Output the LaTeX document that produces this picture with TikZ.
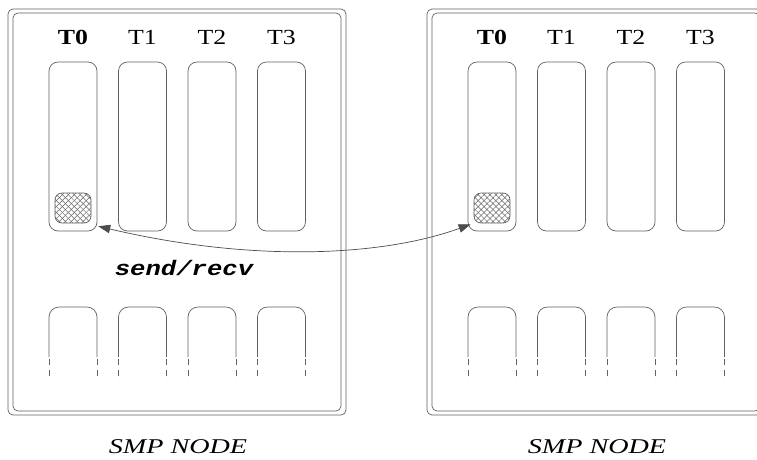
\documentclass[tikz,border=0pt]{standalone}
\usepackage{fontspec}
\setmainfont{Liberation Serif}
\setmonofont{Liberation Mono}
\usetikzlibrary{arrows.meta,patterns.meta}
\tikzset{
  ln/.style={draw=black!62, line width=0.7pt},
  frame/.style={ln, rounded corners=5pt},
  thread/.style={ln, rounded corners=9pt, minimum width=48pt, minimum height=169pt, inner sep=0pt},
  hatchbox/.style={ln, rounded corners=7pt, minimum width=36pt, minimum height=30pt, inner sep=0pt,
    pattern={Lines[angle=45,distance=4.2pt,line width=0.5pt]}, pattern color=black!60,
    postaction={pattern={Lines[angle=-45,distance=4.2pt,line width=0.5pt]}, pattern color=black!60}},
  tlabel/.style={font=\fontsize{21.5}{25}\selectfont, inner sep=0pt},
  caption/.style={font=\fontsize{21}{25}\selectfont\itshape, inner sep=0pt},
  msg/.style={font=\fontsize{21}{25}\selectfont\ttfamily\bfseries\itshape, inner sep=0pt},
  conn/.style={draw=black!70, line width=0.7pt, {Triangle[length=12pt,width=8.5pt]}-{Triangle[length=12pt,width=8.5pt]}}
}
\newcommand{\hstretch}[2]{\scalebox{#1}[1]{#2}}
\begin{document}
\begin{tikzpicture}[x=1pt,y=-1pt]
\useasboundingbox (0,0) rectangle (757,459);
\clip (0,0) rectangle (757,459);
\foreach \side/\dx in {L/0,R/419}{
  \begin{scope}[xshift=\dx]
    \draw[frame] (8,9) rectangle (346,415);
    \draw[frame] (13,13) rectangle (341,411);
    \foreach \i/\lab in {0/\textbf{T0},1/T1,2/T2,3/T3}{
      \pgfmathsetmacro{\cx}{73+69.5*\i}
      \node[tlabel] (lab\side\i) at (\cx,37) {\hstretch{1.2}{\lab}};
      \node[thread] (col\side\i) at (\cx,146.5) {};
      \draw[ln, rounded corners=10pt] (\cx-24,357) -- (\cx-24,307) -- (\cx+24,307) -- (\cx+24,357);
      \draw[ln, dash pattern=on 6pt off 5pt] (\cx-24,359) -- (\cx-24,381);
      \draw[ln, dash pattern=on 6pt off 5pt] (\cx+24,359) -- (\cx+24,381);
    }
    \node[hatchbox] (buf\side) at (73,208) {};
  \end{scope}
}
\node[msg] (msg) at (184,268) {\hstretch{1.22}{send/recv}};
\node[caption] (capL) at (178,447) {\hstretch{1.34}{SMP NODE}};
\node[caption] (capR) at (597,447) {\hstretch{1.34}{SMP NODE}};
\coordinate (endL) at ([shift={(7pt,-3pt)}]bufL.south east);
\coordinate (endR) at ([shift={(-3pt,-1pt)}]bufR.south west);
\draw[conn] (endL) .. controls (250,262) and (380,257) .. (endR);
\end{tikzpicture}
\end{document}
